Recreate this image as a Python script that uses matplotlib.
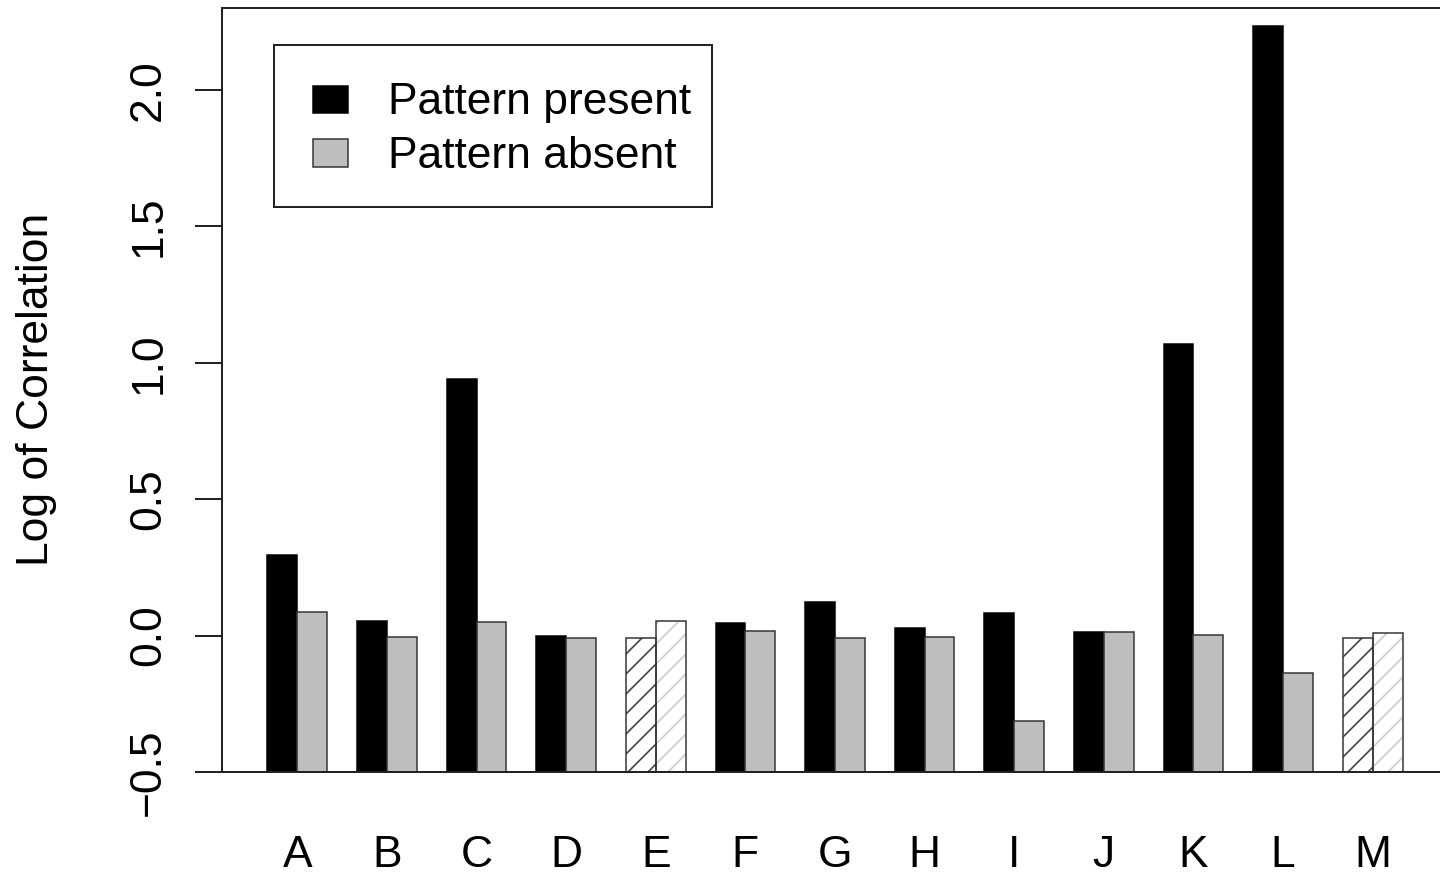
import matplotlib
matplotlib.use('Agg')
import matplotlib.pyplot as plt
import matplotlib.patches as patches
import numpy as np

plt.rcParams['font.family'] = ['Liberation Sans', 'DejaVu Sans']
plt.rcParams['hatch.linewidth'] = 1.0

categories = ['A', 'B', 'C', 'D', 'E', 'F', 'G', 'H', 'I', 'J', 'K', 'L', 'M']
present = [0.295, 0.055, 0.941, -0.001, -0.008, 0.045, 0.122, 0.027, 0.084, 0.012, 1.069, 2.235, -0.008]
absent = [0.088, -0.004, 0.049, -0.008, 0.054, 0.016, -0.008, -0.004, -0.313, 0.012, 0.002, -0.136, 0.011]
hatched = ['E', 'M']
yticks = [-0.5, 0.0, 0.5, 1.0, 1.5, 2.0]

W, H = 1440, 876
FS = 26.6
fig = plt.figure(figsize=(12, 7.3), dpi=120)


def fx(px):
    return px / W


def fy(py):
    return 1 - py / H


ax = fig.add_axes([fx(222), fy(772), fx(1448) - fx(222), fy(8) - fy(772)])

base = -0.5
edge = '#333333'
n = len(categories)
left = 1 + 3 * np.arange(n)
for i, c in enumerate(categories):
    hp = present[i] - base
    ha = absent[i] - base
    if c in hatched:
        ax.bar(left[i], hp, width=1, bottom=base, align='edge', color='white',
               hatch='//', edgecolor='#444444', linewidth=0)
        ax.bar(left[i] + 1, ha, width=1, bottom=base, align='edge', color='white',
               hatch='//', edgecolor='#cccccc', linewidth=0)
        ax.bar(left[i], hp, width=1, bottom=base, align='edge', fill=False,
               edgecolor=edge, linewidth=0.9)
        ax.bar(left[i] + 1, ha, width=1, bottom=base, align='edge', fill=False,
               edgecolor=edge, linewidth=0.9)
    else:
        ax.bar(left[i], hp, width=1, bottom=base, align='edge', color='black',
               edgecolor='black', linewidth=0.9)
        ax.bar(left[i] + 1, ha, width=1, bottom=base, align='edge', color='#bebebe',
               edgecolor=edge, linewidth=0.9)

ax.set_xlim(-0.52, 40.52)
ax.set_ylim(-0.5, 2.3)

ax.set_xticks(left + 1)
ax.set_xticklabels(categories, fontsize=FS)
ax.tick_params(axis='x', length=0, pad=38)

ax.set_yticks(yticks)
ax.set_yticklabels([f'{t:.1f}'.replace('-', '\u2212') for t in yticks], fontsize=FS,
                   rotation=90, va='center')
ax.tick_params(axis='y', length=16.2, width=1.2, pad=15.5, color='#222222')

for s in ['left', 'top', 'bottom']:
    ax.spines[s].set_color('#222222')
    ax.spines[s].set_linewidth(1.2)
ax.spines['right'].set_visible(False)

fig.text(fx(37), 0.556, 'Log of Correlation', rotation=90, ha='center',
         va='center', fontsize=FS)

# legend box
fig.add_artist(patches.Rectangle((fx(274), fy(207)), fx(712) - fx(274), fy(45) - fy(207),
                                 transform=fig.transFigure, fill=False,
                                 edgecolor='#222222', linewidth=1.2))
fig.add_artist(patches.Rectangle((fx(313), fy(113)), fx(348) - fx(313), fy(86) - fy(113),
                                 transform=fig.transFigure, facecolor='black',
                                 edgecolor='black', linewidth=0.9))
fig.add_artist(patches.Rectangle((fx(313), fy(167)), fx(348) - fx(313), fy(139) - fy(167),
                                 transform=fig.transFigure, facecolor='#bebebe',
                                 edgecolor=edge, linewidth=0.9))
fig.text(fx(388), fy(114), 'Pattern present', fontsize=FS, va='baseline')
fig.text(fx(388), fy(168), 'Pattern absent', fontsize=FS, va='baseline')

fig.savefig('out.png', dpi=120)
